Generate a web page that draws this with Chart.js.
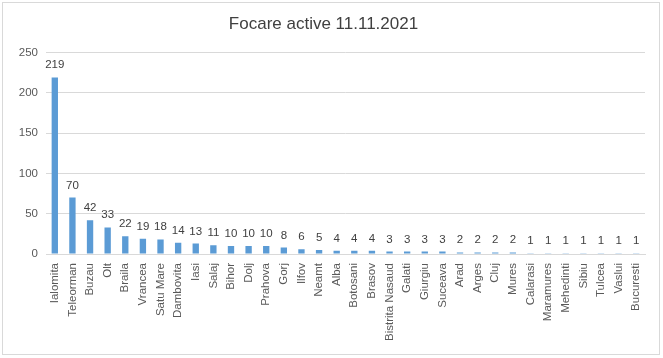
<!DOCTYPE html>
<html>
<head>
<meta charset="utf-8">
<script src="https://cdn.jsdelivr.net/npm/chart.js@4"></script>
<style>
html,body{margin:0;padding:0;background:#fff;}
#wrap{width:663px;height:358px;position:relative;}
</style>
</head>
<body>
<div id="wrap"><canvas id="c" width="663" height="358"></canvas></div>
<script>
const categories = ["Ialomita","Teleorman","Buzau","Olt","Braila","Vrancea","Satu Mare","Dambovita","Iasi","Salaj","Bihor","Dolj","Prahova","Gorj","Ilfov","Neamt","Alba","Botosani","Brasov","Bistrita Nasaud","Galati","Giurgiu","Suceava","Arad","Arges","Cluj","Mures","Calarasi","Maramures","Mehedinti","Sibiu","Tulcea","Vaslui","Bucuresti"];
const values = [219,70,42,33,22,19,18,14,13,11,10,10,10,8,6,5,4,4,4,3,3,3,3,2,2,2,2,1,1,1,1,1,1,1];
const yTicks = [0,50,100,150,200,250];
const titleText = "Focare active 11.11.2021";

const FONT = "'Liberation Sans', Arial, sans-serif";

const borderPlugin = {
  id: 'outerBorder',
  beforeDraw(chart) {
    const ctx = chart.ctx;
    ctx.save();
    ctx.fillStyle = '#ffffff';
    ctx.fillRect(0, 0, chart.width, chart.height);
    ctx.strokeStyle = '#d9d9d9';
    ctx.lineWidth = 1;
    ctx.strokeRect(2.5, 2.5, 657, 352);
    ctx.restore();
  }
};

const labelPlugin = {
  id: 'valueLabels',
  afterDatasetsDraw(chart) {
    const ctx = chart.ctx;
    const meta = chart.getDatasetMeta(0);
    ctx.save();
    ctx.font = "11.5px " + FONT;
    ctx.fillStyle = '#404040';
    ctx.textAlign = 'center';
    ctx.textBaseline = 'alphabetic';
    meta.data.forEach((bar, i) => {
      ctx.fillText(String(values[i]), bar.x, bar.y - 9);
    });
    ctx.restore();
  }
};

new Chart(document.getElementById('c'), {
  type: 'bar',
  data: {
    labels: categories,
    datasets: [{
      data: values,
      backgroundColor: '#5B9BD5',
      borderWidth: 0,
      barPercentage: 0.36,
      categoryPercentage: 1
    }]
  },
  options: {
    responsive: false,
    animation: false,
    layout: { padding: { left: 2, right: 18, top: 0, bottom: 0 } },
    plugins: {
      legend: { display: false },
      tooltip: { enabled: false },
      title: {
        display: true,
        text: titleText,
        color: '#404040',
        font: { family: FONT, size: 17, weight: 'normal' },
        padding: { top: 14, bottom: 18 }
      }
    },
    scales: {
      x: {
        grid: { display: false, drawTicks: false },
        border: { display: true, color: '#d9d9d9' },
        ticks: {
          color: '#595959',
          font: { family: FONT, size: 11.5 },
          minRotation: 90,
          maxRotation: 90,
          autoSkip: false,
          padding: 9
        },
        afterFit(s) { s.height = 104; }
      },
      y: {
        min: 0,
        max: 250,
        afterBuildTicks(s) { s.ticks = yTicks.map(v => ({ value: v })); },
        grid: { color: '#d9d9d9', drawTicks: false },
        border: { display: false },
        ticks: {
          color: '#595959',
          font: { family: FONT, size: 11.5 },
          padding: 8
        },
        afterFit(s) { s.width = 44; }
      }
    }
  },
  plugins: [borderPlugin, labelPlugin]
});
</script>
</body>
</html>
